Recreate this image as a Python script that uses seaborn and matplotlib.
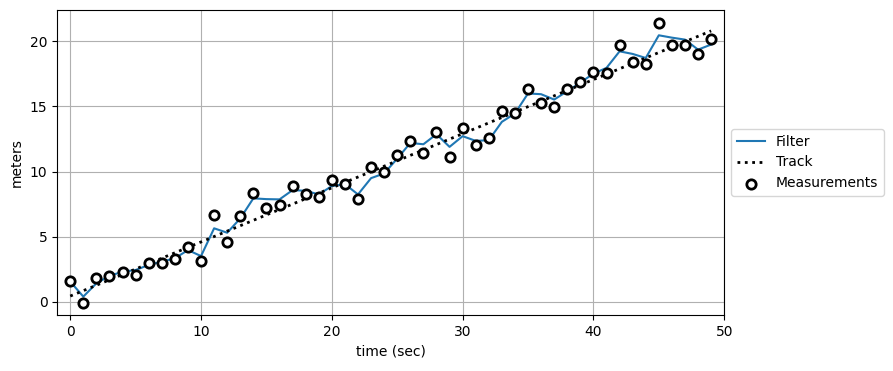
import numpy as np
import pandas as pd
import seaborn as sns
import matplotlib.pyplot as plt

# time steps
times = list(range(50))

# noisy position measurements (meters)
measurements = [1.61, -0.08, 1.84, 2.0, 2.3, 2.07, 3.0, 3.0, 3.3, 4.2,
                3.14, 6.67, 4.6, 6.6, 8.35, 7.2, 7.43, 8.9, 8.28, 8.05,
                9.35, 9.04, 7.9, 10.34, 9.96, 11.26, 12.34, 11.42, 13.03, 11.1,
                13.33, 12.03, 12.57, 14.64, 14.48, 16.32, 15.25, 14.94, 16.32, 16.86,
                17.62, 17.55, 19.7, 18.39, 18.24, 21.38, 19.7, 19.7, 19.0, 20.15]

# filter output
filter_est = [1.56, 0.41, 1.43, 2.0, 2.32, 2.45, 2.84, 3.09, 3.35, 3.98,
              3.52, 5.65, 5.31, 6.41, 7.95, 7.89, 7.87, 8.58, 8.53, 8.25,
              8.89, 9.04, 8.25, 9.5, 9.86, 11.0, 12.2, 12.1, 12.87, 11.9,
              12.72, 12.36, 12.41, 13.82, 14.46, 16.0, 15.94, 15.53, 16.17, 16.83,
              17.52, 17.96, 19.23, 19.03, 18.72, 20.46, 20.28, 20.13, 19.36, 19.75]

# true track (straight line)
track_t = [0, 49]
track_x = [0.45, 20.8]

df = pd.DataFrame({'time': times, 'meas': measurements, 'filter': filter_est})
df_track = pd.DataFrame({'time': track_t, 'track': track_x})

fig = plt.figure(figsize=(8.93, 3.71), dpi=100)
ax = fig.add_axes([0.064, 0.151, 0.747, 0.822])

sns.lineplot(data=df, x='time', y='filter', color='C0', linewidth=1.5,
             label='Filter', ax=ax)
sns.lineplot(data=df_track, x='time', y='track', color='black', linewidth=2,
             linestyle=':', label='Track', ax=ax)
sns.scatterplot(data=df, x='time', y='meas', marker='o', s=45,
                facecolor='white', edgecolor='black', linewidth=2,
                label='Measurements', ax=ax, zorder=3)

ax.set_xlim(-1, 50)
ax.set_ylim(-1.0, 22.4)
ax.set_xticks([0, 10, 20, 30, 40, 50])
ax.set_yticks([0, 5, 10, 15, 20])
ax.grid(True)
ax.set_axisbelow(True)
ax.set_xlabel('time (sec)')
ax.set_ylabel('meters')
ax.legend(loc='center left', bbox_to_anchor=(1, 0.5))

fig.savefig('out.png', dpi=100)
